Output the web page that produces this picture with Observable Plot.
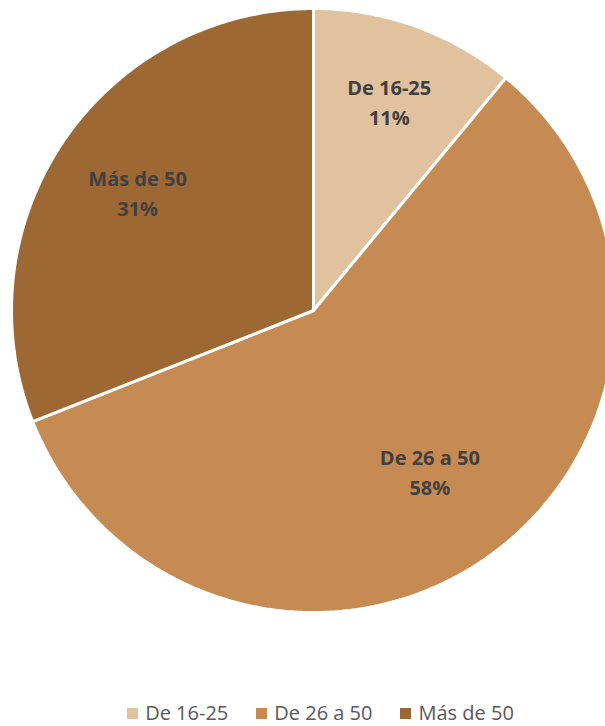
<!DOCTYPE html>
<html>
<head>
<meta charset="utf-8">
<script src="https://cdn.jsdelivr.net/npm/d3@7"></script>
<script src="https://cdn.jsdelivr.net/npm/@observablehq/plot@0.6"></script>
<style>
  html, body { margin: 0; padding: 0; background: #fff; }
  #chart { width: 605px; }
  .legend { display: flex; justify-content: center; align-items: center; height: 36px; line-height: 36px;
    padding-left: 36px; box-sizing: border-box; width: 605px;
    font-family: "Open Sans", "Liberation Sans", sans-serif; font-size: 20px; color: #595959; }
  .legend .item { display: flex; align-items: center; margin: 0 14px; }
  .legend .sw { width: 11px; height: 11px; margin-right: 7px; }
</style>
</head>
<body>
<div id="chart"></div>
<script>
const categories = ["De 16-25", "De 26 a 50", "Más de 50"];
const shares = [11, 58, 31];
const colors = ["#E1C29F", "#C68B52", "#9E6834"];

const W = 605, H = 695, CX = 313, CY = 310, R = 302;

const pieData = categories.map((c, i) => ({category: c, value: shares[i]}));
const arcs = d3.pie().sort(null).value(d => d.value)(pieData);

// slice outlines (geometry derived from the data through d3.pie)
const poly = [];
arcs.forEach(a => {
  poly.push({category: a.data.category, x: 0, y: 0});
  const n = Math.max(4, Math.ceil((a.endAngle - a.startAngle) / 0.01));
  for (let k = 0; k <= n; k++) {
    const t = a.startAngle + (a.endAngle - a.startAngle) * k / n;
    poly.push({category: a.data.category, x: Math.sin(t), y: Math.cos(t)});
  }
});

const labels = arcs.map(a => {
  const m = (a.startAngle + a.endAngle) / 2;
  const frac = (a.endAngle - a.startAngle) / (2 * Math.PI);
  const lr = 0.76 - 0.18 * frac;
  return {category: a.data.category, value: a.data.value,
          x: lr * Math.sin(m), y: lr * Math.cos(m)};
});

const chart = Plot.plot({
  width: W, height: H,
  margin: 0,
  x: {domain: [-CX / R, (W - CX) / R], range: [0, W], axis: null},
  y: {domain: [-(H - CY) / R, CY / R], range: [H, 0], axis: null},
  color: {domain: categories, range: colors},
  marks: [
    Plot.line(poly, {x: "x", y: "y", z: "category", fill: "category",
      stroke: "white", strokeWidth: 3, curve: "linear-closed", strokeLinejoin: "miter"}),
    Plot.text(labels, {x: "x", y: "y", text: d => d.category + "\n" + d.value + "%",
      fill: "#404040", fontWeight: "bold", fontSize: 20, lineHeight: 1.5,
      fontFamily: "Open Sans, Liberation Sans, sans-serif"})
  ]
});
document.getElementById("chart").appendChild(chart);

const legend = document.createElement("div");
legend.className = "legend";
categories.forEach((c, i) => {
  const it = document.createElement("div");
  it.className = "item";
  const sw = document.createElement("span");
  sw.className = "sw";
  sw.style.background = colors[i];
  const tx = document.createElement("span");
  tx.textContent = c;
  it.appendChild(sw); it.appendChild(tx);
  legend.appendChild(it);
});
document.getElementById("chart").appendChild(legend);
</script>
</body>
</html>
